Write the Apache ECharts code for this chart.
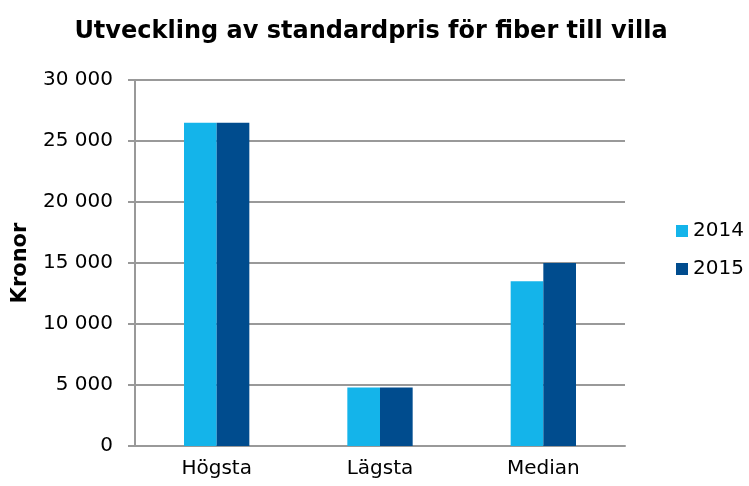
<!DOCTYPE html>
<html><head><meta charset="utf-8">
<script src="https://cdn.jsdelivr.net/npm/echarts@6/dist/echarts.min.js"></script>
<style>html,body{margin:0;padding:0;background:#fff}#c{width:749px;height:486px}</style>
</head><body><div id="c"></div>
<script>
const categories = ['Högsta', 'Lägsta', 'Median'];
const series2014 = [26500, 4800, 13500];
const series2015 = [26500, 4800, 15000];
const seriesNames = ['2014', '2015'];

const chart = echarts.init(document.getElementById('c'), null, {renderer: 'canvas'});
const F = 'DejaVu Sans, Verdana, sans-serif';
chart.setOption({
  animation: false,
  title: {
    text: 'Utveckling av standardpris för fiber till villa',
    left: 366, top: 15, textAlign: 'center',
    textStyle: {fontFamily: F, fontSize: 24, fontWeight: 'bold', color: '#000'}
  },
  legend: {
    orient: 'vertical', left: 676, top: 221, itemWidth: 12, itemHeight: 12, itemGap: 18,
    icon: 'rect', padding: 0,
    textStyle: {fontFamily: F, fontSize: 20, color: '#000'},
    data: seriesNames
  },
  grid: {left: 135, right: 124, top: 80, bottom: 40},
  xAxis: {
    type: 'category', data: categories,
    axisLine: {lineStyle: {color: '#999', width: 2}},
    axisTick: {show: false},
    axisLabel: {fontFamily: F, fontSize: 20, color: '#000', margin: 13}
  },
  yAxis: {
    type: 'value', min: 0, max: 30000, interval: 5000,
    name: 'Kronor', nameLocation: 'middle', nameGap: 104, nameRotate: 90,
    nameTextStyle: {fontFamily: F, fontSize: 21, fontWeight: 'bold', color: '#000'},
    axisLine: {show: true, lineStyle: {color: '#999', width: 2}},
    axisTick: {show: true, length: 7, lineStyle: {color: '#999', width: 2}},
    splitLine: {lineStyle: {color: '#999', width: 2}},
    axisLabel: {fontFamily: F, fontSize: 20, color: '#000', margin: 22,
      formatter: v => String(v).replace(/\B(?=(\d{3})+(?!\d))/g, ' ')}
  },
  series: [
    {name: seriesNames[0], type: 'bar', data: series2014, barGap: '0%', barCategoryGap: '60%',
     itemStyle: {color: '#14B4EA'}},
    {name: seriesNames[1], type: 'bar', data: series2015, barGap: '0%', barCategoryGap: '60%',
     itemStyle: {color: '#004C8E'}}
  ]
});
</script></body></html>
